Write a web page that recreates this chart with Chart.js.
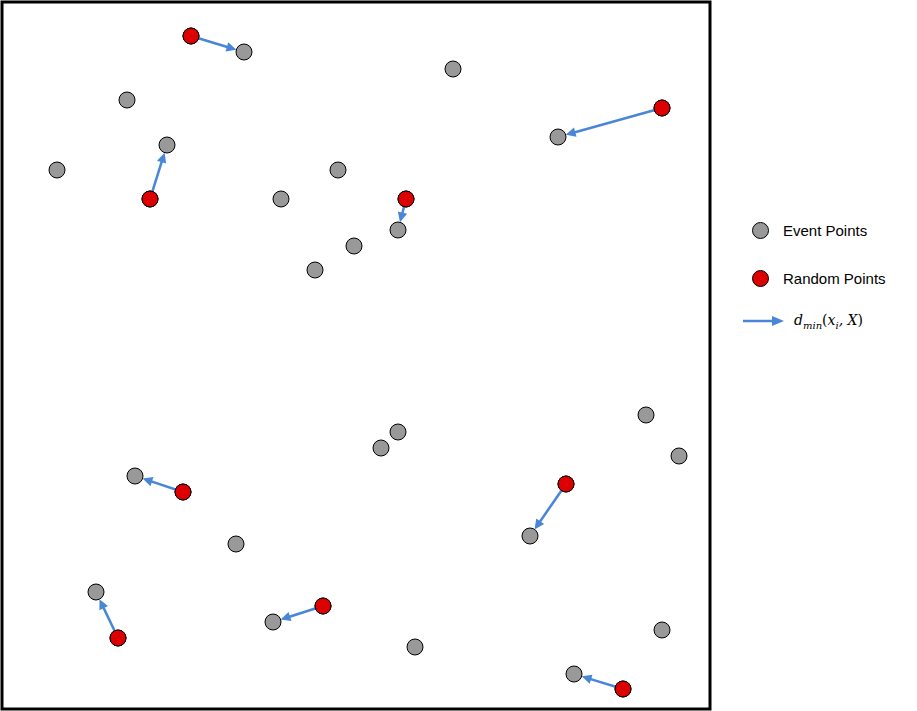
<!doctype html>
<html>
<head>
<meta charset="utf-8" />
<style>
  body { margin:0; background:#fff; font-family: Arial, "Liberation Sans", sans-serif; overflow:hidden; }
  #wrap { position:relative; width:917px; height:711px; overflow:hidden; }
  #c { position:absolute; left:-7px; top:-7px; }
  .leg { position:absolute; left:742px; font-size:15px; color:#000; display:flex; align-items:center; }
  .dot { width:15px; height:15px; border-radius:50%; border:1px solid #000; margin:0 14px 0 10px; }
  .math { font-family: "DejaVu Serif", serif; font-style:italic; font-size:14px; }
</style>
<script src="https://cdn.jsdelivr.net/npm/chart.js"></script>
</head>
<body>
<div id="wrap">
  <canvas id="c" width="726" height="725"></canvas>
  <div class="leg" style="top:222px"><div class="dot" style="background:#999"></div>Event Points</div>
  <div class="leg" style="top:270px"><div class="dot" style="background:#dd0000"></div>Random Points</div>
  <div class="leg" style="top:312px">
    <svg width="44" height="16" style="margin-right:8px"><line x1="1" y1="8" x2="32" y2="8" stroke="#4a86d8" stroke-width="2.5"/><polygon points="42,8 30,3 30,13" fill="#4a86d8"/></svg>
    <span class="math">d<sub style="font-size:10px">min</sub><span style="font-style:normal">(</span>x<sub style="font-size:10px">i</sub>, X<span style="font-style:normal">)</span></span>
  </div>
</div>
<script>
const eventX = [244,453,127,167,558,57,338,281,398,354,315,646,398,381,679,135,530,236,96,273,662,415,574];
const eventY = [52,69,100,145,137,170,170,199,230,246,270,415,432,448,456,476,536,544,592,622,630,647,674];
const randX = [191,662,150,406,183,566,323,118,623];
const randY = [36,108,199,199,492,484,606,638,689];
// index of nearest event point for each random point
const nearest = [0,4,3,8,15,16,19,18,22];

const arrowPlugin = {
  id: 'arrows',
  afterDatasetsDraw(chart) {
    const ctx = chart.ctx, xs = chart.scales.x, ys = chart.scales.y;
    ctx.save();
    ctx.strokeStyle = '#4a86d8'; ctx.fillStyle = '#4a86d8'; ctx.lineWidth = 2.5;
    randX.forEach((rx, i) => {
      const j = nearest[i];
      const x0 = xs.getPixelForValue(rx), y0 = ys.getPixelForValue(randY[i]);
      const x1 = xs.getPixelForValue(eventX[j]), y1 = ys.getPixelForValue(eventY[j]);
      const a = Math.atan2(y1 - y0, x1 - x0);
      const ex = x1 - Math.cos(a) * 8, ey = y1 - Math.sin(a) * 8;
      ctx.beginPath(); ctx.moveTo(x0, y0);
      ctx.lineTo(ex - Math.cos(a) * 6, ey - Math.sin(a) * 6); ctx.stroke();
      ctx.beginPath(); ctx.moveTo(ex, ey);
      ctx.lineTo(ex - Math.cos(a - 0.45) * 11, ey - Math.sin(a - 0.45) * 11);
      ctx.lineTo(ex - Math.cos(a + 0.45) * 11, ey - Math.sin(a + 0.45) * 11);
      ctx.closePath(); ctx.fill();
    });
    // redraw red points on top of arrow tails
    ctx.strokeStyle = '#000'; ctx.lineWidth = 1; ctx.fillStyle = '#dd0000';
    randX.forEach((rx, i) => {
      ctx.beginPath();
      ctx.arc(xs.getPixelForValue(rx), ys.getPixelForValue(randY[i]), 8, 0, Math.PI * 2);
      ctx.fill(); ctx.stroke();
    });
    const ca = chart.chartArea;
    ctx.strokeStyle = '#000'; ctx.lineWidth = 3;
    ctx.strokeRect(ca.left, ca.top, ca.right - ca.left, ca.bottom - ca.top);
    ctx.restore();
  }
};

new Chart(document.getElementById('c'), {
  type: 'scatter',
  data: {
    datasets: [
      { data: eventX.map((x, i) => ({ x, y: eventY[i] })), backgroundColor: '#999', borderColor: '#000', borderWidth: 1, pointRadius: 8 },
      { data: randX.map((x, i) => ({ x, y: randY[i] })), backgroundColor: '#dd0000', borderColor: '#000', borderWidth: 1, pointRadius: 8 }
    ]
  },
  options: {
    responsive: false, animation: false,
    layout: { padding: 2 },
    plugins: { legend: { display: false }, tooltip: { enabled: false } },
    scales: {
      x: { display: false, min: 2, max: 710 },
      y: { display: false, min: 2, max: 709, reverse: true }
    }
  },
  plugins: [arrowPlugin]
});
</script>
</body>
</html>
